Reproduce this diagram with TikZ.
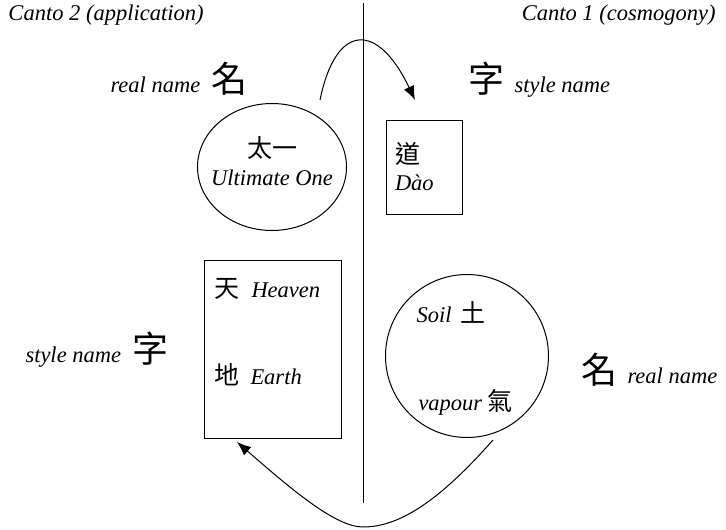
\documentclass[tikz,border=0pt]{standalone}
\usepackage{fontspec}
\setmainfont{Liberation Serif}
\newfontfamily\cjk{Noto Sans CJK TC}
\usetikzlibrary{arrows.meta, shapes.geometric, positioning}

\newcommand{\bigzi}[1]{{\cjk\upshape\fontsize{36}{36}\selectfont #1}}
\newcommand{\zi}[1]{{\cjk\upshape\fontsize{25}{25}\selectfont #1}}

\tikzset{
  lbl/.style={font=\fontsize{22.5}{26}\selectfont\itshape, inner sep=0pt},
  link/.style={-{Latex[length=14pt,width=11pt]}}
}

\begin{document}
\begin{tikzpicture}[x=1pt, y=-1pt, line width=1pt]
	\useasboundingbox (0,0) rectangle (726,530);
	% Divider and headings:
	\draw (363,3) -- (363,503);
	\node[lbl, anchor=base west] (canto2) at (8,20) {Canto 2 (application)};
	\node[lbl, anchor=base east] (canto1) at (716,20) {Canto 1 (cosmogony)};
	% Upper row:
	\node[lbl, anchor=base west] (realL) at (110,92) {real name\hspace{11pt}\bigzi{名}};
	\node[lbl, anchor=base west] (styleR) at (468,92) {\bigzi{字}\hspace{10pt}style name};
	\node[draw, ellipse, minimum width=149pt, minimum height=127pt, inner sep=0pt] (taiyi) at (272,167) {};
	\node[lbl, align=center] (taiyitext) at ([yshift=6pt]taiyi.center) {\zi{太一}\\[2pt]Ultimate One};
	\node[lbl, draw, minimum width=76pt, minimum height=94pt, text width=58pt, align=left, inner sep=9pt] (dao) at (424,167) {\zi{道}\\[1pt]Dào};
	% Lower row:
	\node[lbl, anchor=base west] (styleL) at (25,362) {style name\hspace{11pt}\bigzi{字}};
	\node[lbl, anchor=base west] (realR) at (581,383) {\bigzi{名}\hspace{10pt}real name};
	\node[draw, minimum width=137pt, minimum height=178pt] (tiandibox) at (272.5,349) {};
	\node[lbl, anchor=base west] (tian) at (214,297) {\zi{天}\hspace{12pt}Heaven};
	\node[lbl, anchor=base west] (di) at (214,384) {\zi{地}\hspace{11pt}Earth};
	\node[draw, circle, minimum size=163pt] (tuqi) at (467,356) {};
	\node[lbl, anchor=base west] (tu) at (416,322) {Soil\hspace{9pt}\zi{土}};
	\node[lbl, anchor=base west] (qi) at (418,410) {vapour\hspace{5pt}\zi{氣}};
	% Arrows:
	\coordinate (upfrom) at (320,100);
	\coordinate (upto) at (415,100);
	\coordinate (lowfrom) at (493,440);
	\coordinate (lowmid) at (363,527);
	\coordinate (lowto) at (237,442);
	\draw[link] (upfrom) .. controls (336,22) and (378,22) .. (upto);
	\draw[link] (lowfrom) .. controls (440,500) and (400,527) .. (lowmid)
		.. controls (335,527) and (290,488) .. (lowto);
\end{tikzpicture}
\end{document}
